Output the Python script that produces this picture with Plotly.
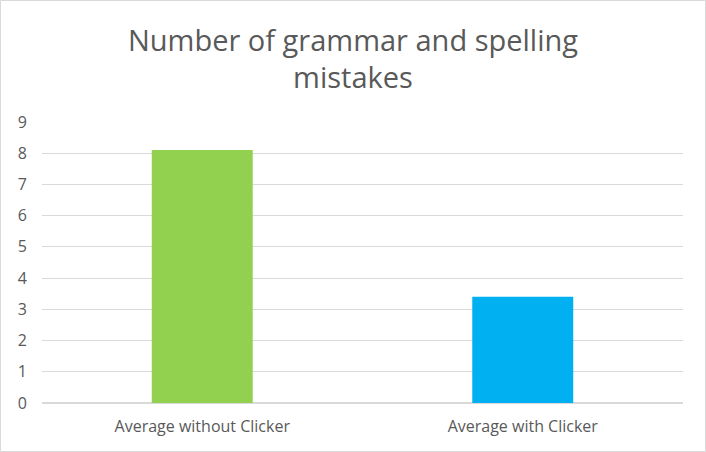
import plotly.graph_objects as go

categories = ["Average without Clicker", "Average with Clicker"]
mistakes = [8.1, 3.4]
bar_colors = ["#92D050", "#00B0F0"]

W, H = 706, 452
ml, mr, mt, mb = 42, 23, 122, 49
pw, ph = W - ml - mr, H - mt - mb

fig = go.Figure()
fig.add_trace(go.Bar(
    x=categories, y=mistakes,
    marker=dict(color=bar_colors, line=dict(width=0)),
    width=0.315,
))

fig.update_layout(
    width=W, height=H,
    margin=dict(l=ml, r=mr, t=mt, b=mb),
    paper_bgcolor="white", plot_bgcolor="white",
    font=dict(family="Open Sans", color="#595959"),
    title=dict(
        text="Number of grammar and spelling<br>mistakes",
        x=0.5, xanchor="center", y=0.888, yanchor="top",
        font=dict(size=29, color="#595959"),
    ),
    showlegend=False,
    xaxis=dict(showline=False, tickfont=dict(size=16), ticks="",
               ticklabelstandoff=12),
    yaxis=dict(
        range=[0, 9], dtick=1, showgrid=True, gridcolor="#d9d9d9",
        zeroline=True, zerolinecolor="#d9d9d9", tickfont=dict(size=16),
        ticklabelstandoff=14,
    ),
    shapes=[dict(
        type="rect", xref="paper", yref="paper",
        x0=(0.5 - ml) / pw, x1=(W - 0.5 - ml) / pw,
        y0=-(mb - 0.5) / ph, y1=1 + (mt - 0.5) / ph,
        line=dict(color="#d9d9d9", width=1),
    )],
)

fig.write_html("out.html", config={"displayModeBar": False},
               post_script="document.body.style.margin='0';")
